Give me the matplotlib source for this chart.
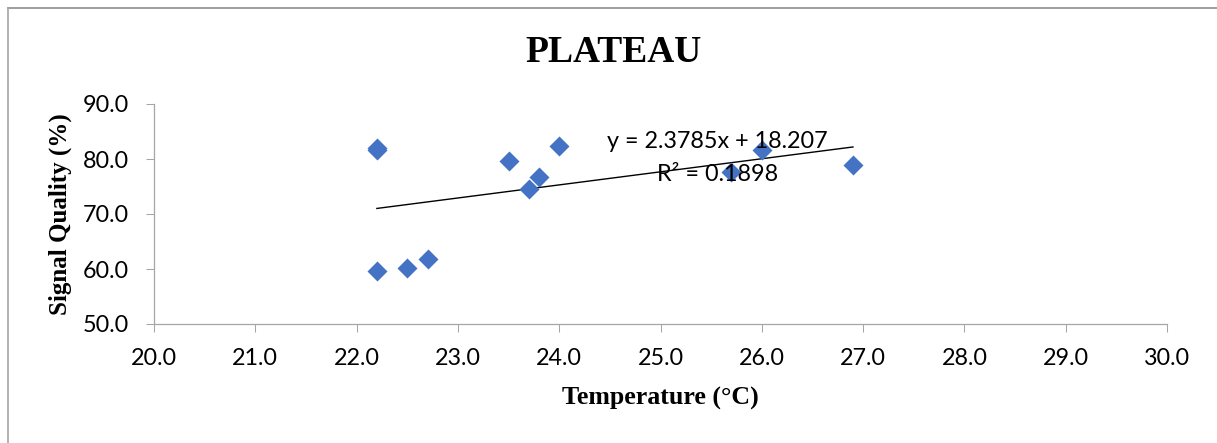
import numpy as np
import matplotlib
matplotlib.use('Agg')
import matplotlib.pyplot as plt
from matplotlib.lines import Line2D

# data
temperature = [22.2, 22.2, 22.2, 22.5, 22.7, 23.5, 23.7, 23.8, 24.0, 25.7, 26.0, 26.9]
signal_quality = [82.0, 81.6, 59.7, 60.2, 61.9, 79.7, 74.5, 76.7, 82.3, 77.6, 81.6, 78.9]

# linear trendline as printed on the chart
slope = 2.3785
intercept = 18.207
r_squared = 0.1898

x_ticks = [20.0, 21.0, 22.0, 23.0, 24.0, 25.0, 26.0, 27.0, 28.0, 29.0, 30.0]
y_ticks = [50.0, 60.0, 70.0, 80.0, 90.0]

W, H = 1217, 443
fig = plt.figure(figsize=(W / 100, H / 100), dpi=100)
ax = fig.add_axes([154 / W, 1 - 324 / H, (1167 - 154) / W, (324 - 104) / H])

ax.scatter(temperature, signal_quality, marker='D', s=10.2 ** 2, color='#4472C4',
           linewidths=0, zorder=3)

xfit = np.array([min(temperature), max(temperature)])
ax.plot(xfit, slope * xfit + intercept, color='black', linewidth=1.0, zorder=2)

ax.text(25.56, 83.1, f'y = {slope}x + {intercept}', ha='center', va='center',
        fontsize=16.8, family='Lato', zorder=4)
ax.text(25.56, 77.1, f'R² = {r_squared}', ha='center', va='center',
        fontsize=16.8, family='Lato', zorder=4)

ax.set_xlim(20, 30)
ax.set_ylim(50, 90)
ax.set_xticks(x_ticks)
ax.set_yticks(y_ticks)
ax.set_xticklabels([f'{t:.1f}' for t in x_ticks], family='Lato', fontsize=16.8)
ax.set_yticklabels([f'{t:.1f}' for t in y_ticks], family='Lato', fontsize=16.8)
ax.tick_params(axis='both', direction='out', length=6, width=0.75, color='#A6A6A6')
ax.tick_params(axis='x', pad=11)
ax.tick_params(axis='y', pad=12)

for side in ['top', 'right']:
    ax.spines[side].set_visible(False)
for side in ['left', 'bottom']:
    ax.spines[side].set_color('#A6A6A6')
    ax.spines[side].set_linewidth(0.9)

fig.text(613 / W, 1 - 52 / H, 'PLATEAU', ha='center', va='center',
         fontsize=27, fontweight='bold', family='Liberation Serif')
fig.text(660 / W, 1 - 398 / H, 'Temperature (°C)', ha='center', va='center',
         fontsize=18.6, fontweight='bold', family='Liberation Serif')
fig.text(60 / W, 1 - 214 / H, 'Signal Quality (%)', ha='center', va='center',
         rotation=90, fontsize=18, fontweight='bold', family='Liberation Serif')

# outer chart border (top and left edges visible)
fig.add_artist(Line2D([8 / W, 1.0], [1 - 8 / H, 1 - 8 / H], color='#8C8C8C', linewidth=1.2))
fig.add_artist(Line2D([8 / W, 8 / W], [0.0, 1 - 8 / H], color='#A6A6A6', linewidth=1.2))

fig.savefig('out.png', dpi=100)
